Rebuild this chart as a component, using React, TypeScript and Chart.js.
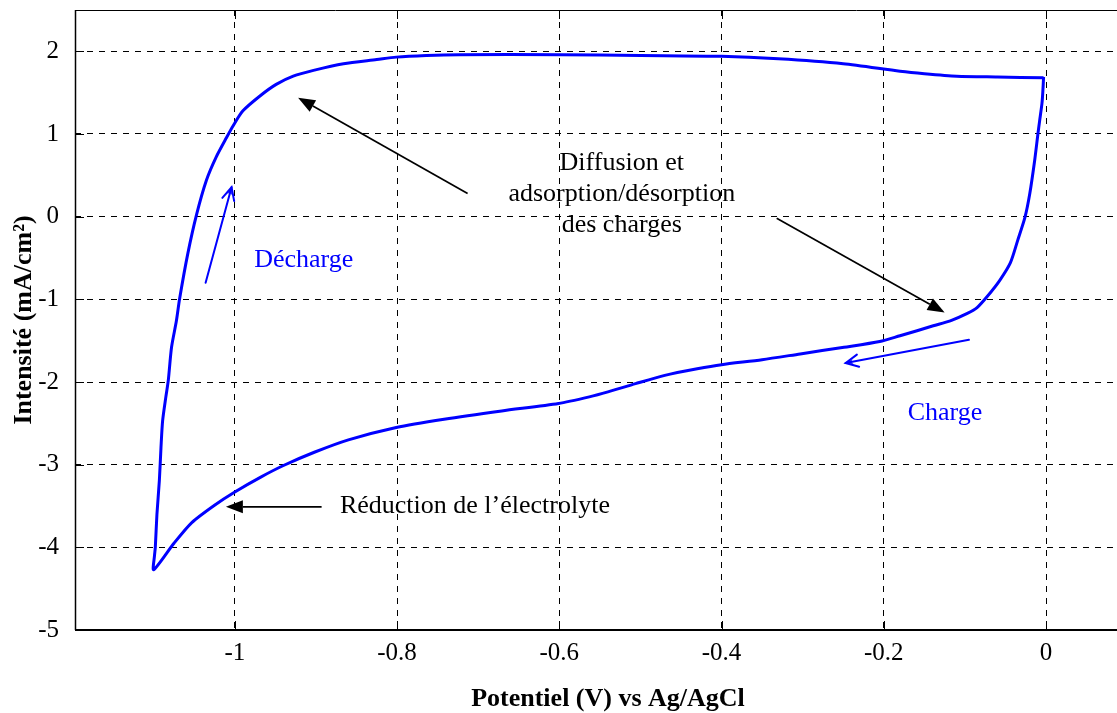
import React, { useEffect, useRef } from "react";
import { Chart, registerables } from "chart.js";

Chart.register(...registerables);

// ---- Data ----
// One closed loop: right branch down, bottom (charge) leftward, left branch up, top (décharge) rightward.
const potential = [
  -0.003, -0.004, -0.005, -0.008, -0.010, -0.014, -0.020, -0.026, -0.035, -0.044,
  -0.057, -0.072, -0.085, -0.097, -0.118, -0.139, -0.159, -0.180, -0.205, -0.249,
  -0.303, -0.350, -0.400, -0.430, -0.470, -0.506, -0.540, -0.563, -0.601, -0.671,
  -0.742, -0.801, -0.860, -0.902, -0.940, -0.968, -1.000, -1.025, -1.053, -1.075,
  -1.100, -1.099, -1.098, -1.096, -1.093, -1.091, -1.089, -1.085, -1.082, -1.078,
  -1.072, -1.068, -1.058, -1.047, -1.035, -1.023, -1.010, -1.002, -0.990, -0.969,
  -0.949, -0.928, -0.903, -0.866, -0.825, -0.801, -0.764, -0.723, -0.600, -0.500,
  -0.400, -0.330, -0.250, -0.180, -0.150, -0.110, -0.060, -0.003,
];
const current = [
  1.69, 1.50, 1.37, 1.15, 1.00, 0.68, 0.28, -0.01, -0.29, -0.56,
  -0.77, -0.96, -1.10, -1.17, -1.26, -1.32, -1.38, -1.44, -1.51, -1.58,
  -1.66, -1.73, -1.79, -1.84, -1.92, -2.02, -2.12, -2.18, -2.26, -2.35,
  -2.45, -2.55, -2.70, -2.85, -3.01, -3.15, -3.33, -3.49, -3.70, -3.95,
  -4.27, -4.10, -4.00, -3.60, -3.19, -2.79, -2.47, -2.18, -1.98, -1.58,
  -1.26, -0.99, -0.45, 0.03, 0.44, 0.72, 0.96, 1.10, 1.28, 1.46,
  1.60, 1.70, 1.77, 1.85, 1.90, 1.93, 1.95, 1.96, 1.96, 1.95,
  1.94, 1.91, 1.85, 1.76, 1.73, 1.70, 1.69, 1.68,
];
const xTickValues = [-1, -0.8, -0.6, -0.4, -0.2, 0];
const yTickValues = [-5, -4, -3, -2, -1, 0, 1, 2];
const xTitle = "Potentiel (V) vs Ag/AgCl";
const yTitle = "Intensité (mA/cm²)";

// ---- Annotations (in data coordinates) ----
const noteTexts = [
  { text: "Diffusion et", x: -0.523, y: 0.653, color: "#000000" },
  { text: "adsorption/désorption", x: -0.523, y: 0.274, color: "#000000" },
  { text: "des charges", x: -0.523, y: -0.097, color: "#000000" },
  { text: "Décharge", x: -0.915, y: -0.532, color: "#0000ff" },
  { text: "Charge", x: -0.1245, y: -2.378, color: "#0000ff" },
  { text: "Réduction de l\u2019électrolyte", x: -0.704, y: -3.507, color: "#000000" },
];
const noteArrows = [
  { from: [-0.713, 0.28], to: [-0.922, 1.44], color: "#000000", kind: "filled" },
  { from: [-0.332, -0.02], to: [-0.125, -1.16], color: "#000000", kind: "filled" },
  { from: [-0.893, -3.51], to: [-1.011, -3.51], color: "#000000", kind: "filled" },
  { from: [-1.036, -0.80], to: [-1.004, 0.355], color: "#0000ff", kind: "open" },
  { from: [-0.095, -1.49], to: [-0.247, -1.77], color: "#0000ff", kind: "open" },
];

const SERIF = '"Liberation Serif", "Times New Roman", Times, serif';

function drawFilledArrow(ctx: CanvasRenderingContext2D, x1: number, y1: number, x2: number, y2: number, color: string) {
  const len = 17;
  const width = 13;
  const ang = Math.atan2(y2 - y1, x2 - x1);
  const bx = x2 - len * Math.cos(ang);
  const by = y2 - len * Math.sin(ang);
  ctx.strokeStyle = color;
  ctx.lineWidth = 1.7;
  ctx.beginPath();
  ctx.moveTo(x1, y1);
  ctx.lineTo(bx, by);
  ctx.stroke();
  const px = (-Math.sin(ang) * width) / 2;
  const py = (Math.cos(ang) * width) / 2;
  ctx.fillStyle = color;
  ctx.beginPath();
  ctx.moveTo(x2, y2);
  ctx.lineTo(bx + px, by + py);
  ctx.lineTo(bx - px, by - py);
  ctx.closePath();
  ctx.fill();
}

function drawOpenArrow(ctx: CanvasRenderingContext2D, x1: number, y1: number, x2: number, y2: number, color: string) {
  const len = 14;
  const half = (26 * Math.PI) / 180;
  const ang = Math.atan2(y2 - y1, x2 - x1);
  ctx.strokeStyle = color;
  ctx.lineWidth = 2;
  ctx.lineCap = "round";
  ctx.lineJoin = "miter";
  ctx.beginPath();
  ctx.moveTo(x1, y1);
  ctx.lineTo(x2, y2);
  ctx.stroke();
  ctx.beginPath();
  ctx.moveTo(x2 - len * Math.cos(ang - half), y2 - len * Math.sin(ang - half));
  ctx.lineTo(x2, y2);
  ctx.lineTo(x2 - len * Math.cos(ang + half), y2 - len * Math.sin(ang + half));
  ctx.stroke();
  ctx.fillStyle = color;
  ctx.beginPath();
  ctx.moveTo(x2, y2);
  ctx.lineTo(x2 - 8 * Math.cos(ang - 0.3), y2 - 8 * Math.sin(ang - 0.3));
  ctx.lineTo(x2 - 5 * Math.cos(ang), y2 - 5 * Math.sin(ang));
  ctx.lineTo(x2 - 8 * Math.cos(ang + 0.3), y2 - 8 * Math.sin(ang + 0.3));
  ctx.closePath();
  ctx.fill();
}

const framePlugin = {
  id: "frameAndNotes",
  afterDatasetsDraw(chart: any) {
    const { ctx, chartArea, scales } = chart;
    const { left, right, top, bottom } = chartArea;
    const xs = scales.x;
    const ys = scales.y;
    ctx.save();
    ctx.setLineDash([]);
    ctx.strokeStyle = "#000";
    ctx.lineWidth = 1;
    const tl = 9;
    for (const v of xTickValues) {
      const px = Math.round(xs.getPixelForValue(v)) + 0.5;
      ctx.beginPath();
      ctx.moveTo(px, bottom);
      ctx.lineTo(px, bottom - tl);
      ctx.moveTo(px, top);
      ctx.lineTo(px, top + tl);
      ctx.stroke();
    }
    for (const v of yTickValues) {
      const py = Math.round(ys.getPixelForValue(v)) + 0.5;
      ctx.beginPath();
      ctx.moveTo(left, py);
      ctx.lineTo(left + tl, py);
      ctx.stroke();
    }
    ctx.lineWidth = 1;
    ctx.beginPath();
    ctx.moveTo(left, top + 0.5);
    ctx.lineTo(right, top + 0.5);
    ctx.stroke();
    ctx.lineWidth = 1.5;
    ctx.beginPath();
    ctx.moveTo(left + 0.5, top);
    ctx.lineTo(left + 0.5, bottom);
    ctx.stroke();
    ctx.lineWidth = 2;
    ctx.beginPath();
    ctx.moveTo(left, bottom);
    ctx.lineTo(right, bottom);
    ctx.stroke();

    for (const a of noteArrows) {
      const x1 = xs.getPixelForValue(a.from[0]);
      const y1 = ys.getPixelForValue(a.from[1]);
      const x2 = xs.getPixelForValue(a.to[0]);
      const y2 = ys.getPixelForValue(a.to[1]);
      if (a.kind === "filled") drawFilledArrow(ctx, x1, y1, x2, y2, a.color);
      else drawOpenArrow(ctx, x1, y1, x2, y2, a.color);
    }
    ctx.font = `26px ${SERIF}`;
    ctx.textAlign = "center";
    ctx.textBaseline = "middle";
    for (const t of noteTexts) {
      ctx.fillStyle = t.color;
      ctx.fillText(t.text, xs.getPixelForValue(t.x), ys.getPixelForValue(t.y));
    }
    ctx.fillStyle = "#000";
    ctx.font = `bold 26px ${SERIF}`;
    ctx.textAlign = "center";
    ctx.textBaseline = "alphabetic";
    ctx.fillText(xTitle, 608, 706);
    ctx.restore();
  },
};

export default function App() {
  const canvasRef = useRef<HTMLCanvasElement | null>(null);

  useEffect(() => {
    document.body.style.margin = "0";
    document.body.style.overflow = "hidden";
    const canvas = canvasRef.current;
    if (!canvas) return;
    const points = potential.map((x, i) => ({ x, y: current[i] }));
    const chart = new Chart(canvas, {
      type: "scatter",
      data: {
        datasets: [
          {
            data: points,
            showLine: true,
            borderColor: "#0000ff",
            backgroundColor: "#0000ff",
            borderWidth: 3,
            pointRadius: 0,
            tension: 0.25,
            fill: false,
          },
        ],
      },
      options: {
        animation: false,
        responsive: false,
        devicePixelRatio: 1,
        layout: { padding: { top: 10, left: 0, right: 0, bottom: 0 } },
        plugins: { legend: { display: false }, tooltip: { enabled: false } },
        scales: {
          x: {
            type: "linear",
            min: -1.197,
            max: 0.0875,
            afterBuildTicks: (scale: any) => {
              scale.ticks = xTickValues.map((v) => ({ value: v }));
            },
            afterFit: (scale: any) => {
              scale.height = 83;
              scale.paddingLeft = 0;
              scale.paddingRight = 0;
            },
            ticks: {
              color: "#000",
              font: { family: SERIF, size: 25 },
              padding: 8,
              maxRotation: 0,
              autoSkip: false,
              callback: (v: any) => String(Number(v)),
            },
            grid: { color: "#000", lineWidth: 1, drawTicks: false },
            border: { display: false, dash: [6, 6] },
          },
          y: {
            type: "linear",
            min: -5,
            max: 2.5,
            afterBuildTicks: (scale: any) => {
              scale.ticks = yTickValues.map((v) => ({ value: v }));
            },
            afterFit: (scale: any) => {
              scale.width = 75;
              scale.paddingTop = 0;
              scale.paddingBottom = 0;
            },
            ticks: {
              color: "#000",
              font: { family: SERIF, size: 25 },
              padding: 16,
              autoSkip: false,
              callback: (v: any) => String(Number(v)),
            },
            grid: { color: "#000", lineWidth: 1, drawTicks: false },
            border: { display: false, dash: [6, 6] },
            title: {
              display: true,
              text: yTitle,
              color: "#000",
              font: { family: SERIF, size: 26, weight: "bold" },
              padding: { top: 9, bottom: 0 },
            },
          },
        },
      },
      plugins: [framePlugin],
    });
    return () => chart.destroy();
  }, []);

  return (
    <div style={{ position: "fixed", left: 0, top: 0, width: 1117, height: 713, background: "#fff" }}>
      <canvas ref={canvasRef} width={1117} height={713} style={{ display: "block" }} />
    </div>
  );
}
